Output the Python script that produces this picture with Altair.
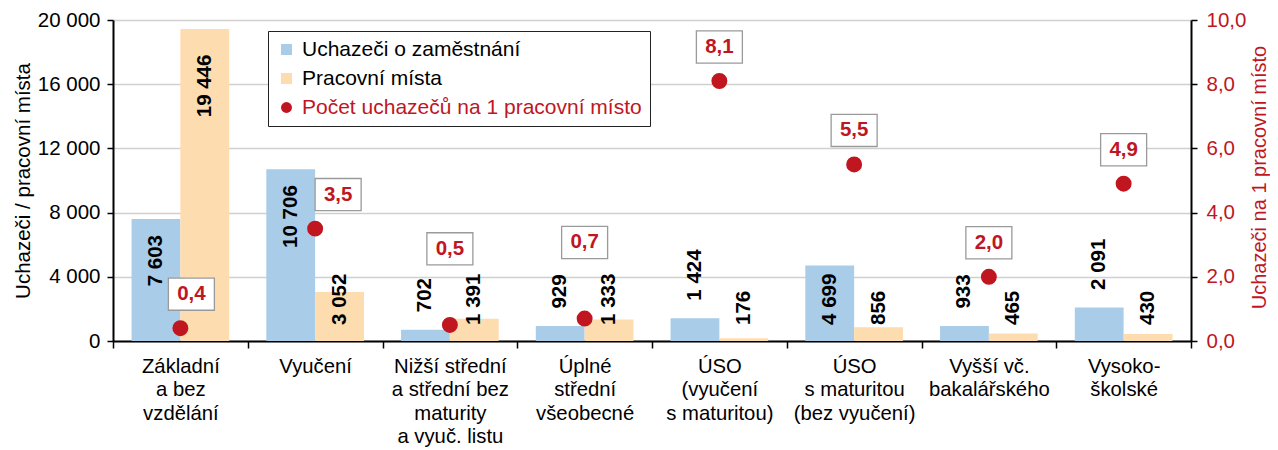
import altair as alt
import pandas as pd

categories = [
    "Základní\na bez\nvzdělání",
    "Vyučení",
    "Nižší střední\na střední bez\nmaturity\na vyuč. listu",
    "Úplné\nstřední\nvšeobecné",
    "ÚSO\n(vyučení\ns maturitou)",
    "ÚSO\ns maturitou\n(bez vyučení)",
    "Vyšší vč.\nbakalářského",
    "Vysoko-\nškolské",
]
uchazeci = [7603, 10706, 702, 929, 1424, 4699, 933, 2091]
mista = [19446, 3052, 1391, 1333, 176, 856, 465, 430]
pomer = [0.4, 3.5, 0.5, 0.7, 8.1, 5.5, 2.0, 4.9]

S_U = "Uchazeči o zaměstnání"
S_P = "Pracovní místa"
S_R = "Počet uchazečů na 1 pracovní místo"

BLUE = "#a9cde9"
ORANGE = "#fddcb0"
RED = "#c0161f"
FONT = "Liberation Sans"

bars_df = pd.DataFrame({
    "cat": categories * 2,
    "series": [S_U] * len(categories) + [S_P] * len(categories),
    "value": uchazeci + mista,
})
rate_df = pd.DataFrame({"cat": categories, "rate": pomer})

x_enc = alt.X(
    "cat:N", sort=categories,
    scale=alt.Scale(paddingInner=0, paddingOuter=0),
    axis=alt.Axis(
        title=None, labelAngle=0, labelExpr="split(datum.label, '\\n')",
        tickBand="extent", labelFont=FONT, labelFontSize=20.3, labelColor="black",
        labelLineHeight=23.6, labelPadding=8, labelOverlap=False, labelLimit=300,
        tickSize=7, tickColor="black", tickWidth=1.5,
        domainColor="black", domainWidth=2, grid=False,
    ),
)
xoff_enc = alt.XOffset("series:N", sort=[S_U, S_P],
                       scale=alt.Scale(paddingInner=0, paddingOuter=0.38))

left_axis = alt.Axis(
    values=list(range(0, 20001, 4000)),
    labelExpr="replace(format(datum.value, ','), ',', ' ')",
    title="Uchazeči / pracovní místa", titleFont=FONT, titleFontSize=20.5,
    titleFontWeight="normal", titleColor="black",
    labelFont=FONT, labelFontSize=20.5, labelColor="black", labelPadding=7,
    tickSize=6, tickColor="black", tickWidth=1.5,
    domainColor="black", domainWidth=2,
    grid=True, gridColor="#d0d0d0", gridWidth=1.3,
)
left_scale = alt.Scale(domain=[0, 20000], nice=False)

legend = alt.Legend(
    title=None, orient="none", legendX=155, legendY=11, direction="vertical",
    labelFont=FONT, labelFontSize=21,
    labelColor={"expr": f"datum.label == '{S_R}' ? '{RED}' : 'black'"},
    symbolType={"expr": f"datum.label == '{S_R}' ? 'circle' : 'square'"},
    symbolSize=120, symbolStrokeWidth=0, symbolOpacity=1,
    strokeColor="#222222", fillColor="white", padding=8,
    rowPadding=7, labelOffset=5, labelLimit=500,
)
color_scale = alt.Scale(domain=[S_U, S_P, S_R], range=[BLUE, ORANGE, RED])

base_bars = alt.Chart(bars_df)

bars = base_bars.mark_bar(opacity=1).encode(
    x=x_enc, xOffset=xoff_enc,
    y=alt.Y("value:Q", scale=left_scale, axis=left_axis),
    color=alt.Color("series:N", scale=color_scale, legend=legend),
)

label_common = dict(angle=270, baseline="middle", font=FONT, fontWeight="bold",
                    fontSize=20.5, color="black")

labels_in = base_bars.transform_filter("datum.value >= 6000").transform_calculate(
    lbl="replace(format(datum.value, ','), ',', ' ')",
    ly="datum.value - (datum.value > 15000 ? 1600 : 1000)",
).mark_text(align="right", **label_common).encode(
    x=x_enc, xOffset=xoff_enc,
    y=alt.Y("ly:Q", scale=left_scale, axis=left_axis),
    text="lbl:N",
)

labels_out = base_bars.transform_filter("datum.value < 6000").transform_calculate(
    lbl="replace(format(datum.value, ','), ',', ' ')",
    ly=f"(datum.series == '{S_U}' && datum.value < 3000) ? datum.value + 1090 : 1000",
).mark_text(align="left", **label_common).encode(
    x=x_enc, xOffset=xoff_enc,
    y=alt.Y("ly:Q", scale=left_scale, axis=left_axis),
    text="lbl:N",
)

left = alt.layer(bars, labels_in, labels_out)

right_axis = alt.Axis(
    orient="right", values=[0, 2, 4, 6, 8, 10],
    labelExpr="replace(format(datum.value, '.1f'), '.', ',')",
    title="Uchazeči na 1 pracovní místo", titleFont=FONT, titleFontSize=20,
    titleFontWeight="normal", titleColor=RED, titleAngle=270,
    titleX=68, titleY=157, titleAlign="center", titleBaseline="middle",
    labelFont=FONT, labelFontSize=20.5, labelColor=RED, labelPadding=9,
    tickSize=6, tickColor="black", tickWidth=1.5,
    domainColor="black", domainWidth=2, grid=False,
)
right_scale = alt.Scale(domain=[0, 10], nice=False)

base_rate = alt.Chart(rate_df).transform_calculate(
    lab="replace(format(datum.rate, '.1f'), '.', ',')",
    label_y="datum.rate + ((datum.rate > 0.45 && datum.rate < 0.8) ? 2.37 : 1.06)",
    lx="datum.rate == 0.4 ? 11 : (datum.rate == 3.5 ? 23 : 0)",
)

points = base_rate.mark_circle(size=254, opacity=1).encode(
    x=x_enc,
    y=alt.Y("rate:Q", scale=right_scale, axis=right_axis),
    color=alt.datum(S_R),
)

boxes = base_rate.mark_point(
    shape="M-1,-0.7L1,-0.7L1,0.7L-1,0.7Z", size=2116, filled=True,
    fill="white", stroke="#9a9a9a", strokeWidth=1.3, opacity=1,
    xOffset={"expr": "datum.lx"},
).encode(
    x=x_enc,
    y=alt.Y("label_y:Q", scale=right_scale, axis=right_axis),
)

box_text = base_rate.mark_text(
    font=FONT, fontWeight="bold", fontSize=20.5, color=RED,
    align="center", baseline="middle", xOffset={"expr": "datum.lx"},
).encode(
    x=x_enc,
    y=alt.Y("label_y:Q", scale=right_scale, axis=right_axis),
    text="lab:N",
)

right = alt.layer(points, boxes, box_text)

chart = alt.layer(left, right).resolve_scale(y="independent").properties(
    width=1078, height=321,
    padding={"left": 105, "top": 12, "right": 79, "bottom": 109},
    autosize=alt.AutoSizeParams(type="none"),
).configure_view(stroke="black", strokeWidth=2).configure(background="white")

chart.save("out.html", embed_options={"renderer": "svg", "actions": False})
